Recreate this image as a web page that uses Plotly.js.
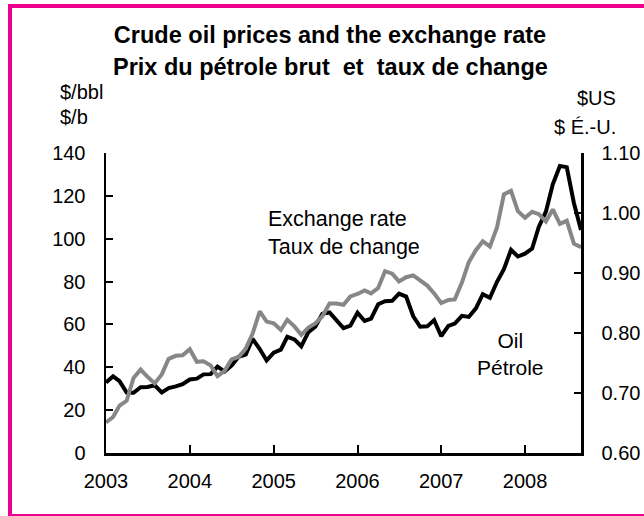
<!DOCTYPE html>
<html>
<head>
<meta charset="utf-8">
<script src="https://cdn.plot.ly/plotly-3.0.1.min.js"></script>
<style>
  html, body { margin: 0; padding: 0; background: #ffffff; }
  #chart { width: 644px; height: 516px; }
</style>
</head>
<body>
<div id="chart"></div>
<script>
// Years and months covered (Jan 2003 - Sep 2008)
const years = [2003, 2004, 2005, 2006, 2007, 2008];
const yearTickLabels = ["2003", "2004", "2005", "2006", "2007", "2008"];

// Crude oil price, $/bbl (monthly)
const oil2003 = [32.9, 35.8, 33.5, 28.2, 28.1, 30.7, 30.8, 31.6, 28.3, 30.3, 31.1, 32.1];
const oil2004 = [34.3, 34.7, 36.7, 36.8, 40.3, 38.0, 40.8, 44.9, 45.9, 53.3, 48.5, 43.2];
const oil2005 = [46.8, 48.2, 54.2, 53.0, 49.8, 56.4, 59.0, 65.0, 65.6, 62.3, 58.3, 59.4];
const oil2006 = [65.5, 61.6, 62.7, 69.4, 70.8, 71.0, 74.4, 73.0, 63.8, 58.9, 59.1, 62.0];
const oil2007 = [54.5, 59.3, 60.4, 64.0, 63.5, 67.5, 74.1, 72.4, 79.9, 85.8, 94.8, 91.7];
const oil2008 = [93.0, 95.4, 105.5, 112.6, 125.4, 133.9, 133.4, 116.7, 104.1];

// Exchange rate, $US per $CAN (monthly)
const fx2003 = [0.651, 0.660, 0.679, 0.687, 0.725, 0.739, 0.727, 0.716, 0.731, 0.757, 0.762, 0.763];
const fx2004 = [0.773, 0.752, 0.753, 0.746, 0.728, 0.737, 0.756, 0.760, 0.774, 0.799, 0.836, 0.819];
const fx2005 = [0.816, 0.805, 0.822, 0.811, 0.797, 0.809, 0.816, 0.828, 0.849, 0.849, 0.847, 0.861];
const fx2006 = [0.865, 0.871, 0.866, 0.875, 0.903, 0.899, 0.886, 0.893, 0.896, 0.887, 0.879, 0.866];
const fx2007 = [0.850, 0.855, 0.856, 0.884, 0.918, 0.938, 0.953, 0.944, 0.976, 1.031, 1.037, 1.003];
const fx2008 = [0.992, 1.002, 0.998, 0.986, 1.006, 0.982, 0.987, 0.949, 0.943];

const oilByYear = [oil2003, oil2004, oil2005, oil2006, oil2007, oil2008];
const fxByYear = [fx2003, fx2004, fx2005, fx2006, fx2007, fx2008];

function monthDates(valsByYear) {
  const out = [];
  valsByYear.forEach((arr, i) => {
    arr.forEach((v, m) => {
      out.push(years[i] + "-" + String(m + 1).padStart(2, "0") + "-01");
    });
  });
  return out;
}
const dates = monthDates(oilByYear);
const oil = [].concat(...oilByYear);
const fx = [].concat(...fxByYear);
const yearTicks = years.map(y => y + "-01-01");

// pixel helpers for annotation placement (plot area: l=106, w=475, t=153, h=300)
const PL = 106, PW = 475, PB = 453, PH = 300;
const px = x => (x - PL) / PW;
const py = y => (PB - y) / PH;

const FONT = "Liberation Sans, Arial, Helvetica, sans-serif";

const traces = [
  {
    x: dates, y: fx, yaxis: "y2", type: "scatter", mode: "lines",
    line: { color: "#878787", width: 4 }, name: "Exchange rate", hoverinfo: "skip"
  },
  {
    x: dates, y: oil, yaxis: "y", type: "scatter", mode: "lines",
    line: { color: "#000000", width: 4 }, name: "Oil", hoverinfo: "skip"
  }
];

const layout = {
  width: 644, height: 516,
  margin: { l: 106, r: 63, t: 153, b: 63, pad: 0 },
  paper_bgcolor: "#ffffff", plot_bgcolor: "#ffffff",
  showlegend: false,
  font: { family: FONT, size: 20, color: "#000000" },
  title: {
    text: "<b>Crude oil prices and the exchange rate</b>",
    font: { family: FONT, size: 23.5, color: "#000000" },
    xref: "container", yref: "container",
    x: 330 / 644, xanchor: "center",
    y: 1 - 35 / 516, yanchor: "middle"
  },
  xaxis: {
    type: "date",
    range: ["2003-01-01", "2008-09-01"],
    tickvals: yearTicks, ticktext: yearTickLabels,
    ticks: "inside", ticklen: 8, tickwidth: 2, tickcolor: "#000",
    showline: true, linecolor: "#000", linewidth: 2.5,
    showgrid: false, zeroline: false,
    ticklabelstandoff: 8,
    tickfont: { family: FONT, size: 20, color: "#000" }
  },
  yaxis: {
    range: [0, 140], dtick: 20, tick0: 0,
    ticks: "inside", ticklen: 7, tickwidth: 2, tickcolor: "#000",
    showline: true, linecolor: "#000", linewidth: 2.5,
    showgrid: false, zeroline: false,
    ticklabelstandoff: 14,
    tickfont: { family: FONT, size: 20, color: "#000" }
  },
  yaxis2: {
    overlaying: "y", side: "right",
    range: [0.6, 1.1], dtick: 0.1, tick0: 0.6, tickformat: ".2f",
    ticks: "inside", ticklen: 7, tickwidth: 2, tickcolor: "#000",
    showline: true, linecolor: "#000", linewidth: 2.5,
    showgrid: false, zeroline: false,
    ticklabelstandoff: 14,
    tickfont: { family: FONT, size: 20, color: "#000" }
  },
  shapes: [
    {
      type: "rect", xref: "paper", yref: "paper",
      x0: px(10), x1: px(650), y0: py(516), y1: py(6),
      line: { color: "#EC008C", width: 4 }, fillcolor: "rgba(0,0,0,0)", layer: "above"
    }
  ],
  annotations: [
    {
      text: "<b>Prix du pétrole brut&nbsp; et&nbsp; taux de change</b>",
      xref: "paper", yref: "paper", x: px(330), y: py(67),
      xanchor: "center", yanchor: "middle", showarrow: false,
      font: { family: FONT, size: 23.5, color: "#000" }
    },
    {
      text: "$/bbl", xref: "paper", yref: "paper", x: px(58), y: py(92),
      xanchor: "left", yanchor: "middle", showarrow: false,
      font: { family: FONT, size: 20, color: "#000" }
    },
    {
      text: "$/b", xref: "paper", yref: "paper", x: px(58), y: py(117),
      xanchor: "left", yanchor: "middle", showarrow: false,
      font: { family: FONT, size: 20, color: "#000" }
    },
    {
      text: "$US", xref: "paper", yref: "paper", x: px(618), y: py(98),
      xanchor: "right", yanchor: "middle", showarrow: false,
      font: { family: FONT, size: 20, color: "#000" }
    },
    {
      text: "$ É.-U.", xref: "paper", yref: "paper", x: px(618), y: py(127),
      xanchor: "right", yanchor: "middle", showarrow: false,
      font: { family: FONT, size: 20, color: "#000" }
    },
    {
      text: "Exchange rate<br>Taux de change", xref: "paper", yref: "paper",
      x: px(266), y: py(233), xanchor: "left", yanchor: "middle", align: "left",
      showarrow: false, font: { family: FONT, size: 21.5, color: "#000" }
    },
    {
      text: "Oil<br>Pétrole", xref: "paper", yref: "paper",
      x: px(510), y: py(354), xanchor: "center", yanchor: "middle", align: "center",
      showarrow: false, font: { family: FONT, size: 21, color: "#000" }
    }
  ]
};

Plotly.newPlot("chart", traces, layout, { staticPlot: true, displayModeBar: false });
</script>
</body>
</html>
